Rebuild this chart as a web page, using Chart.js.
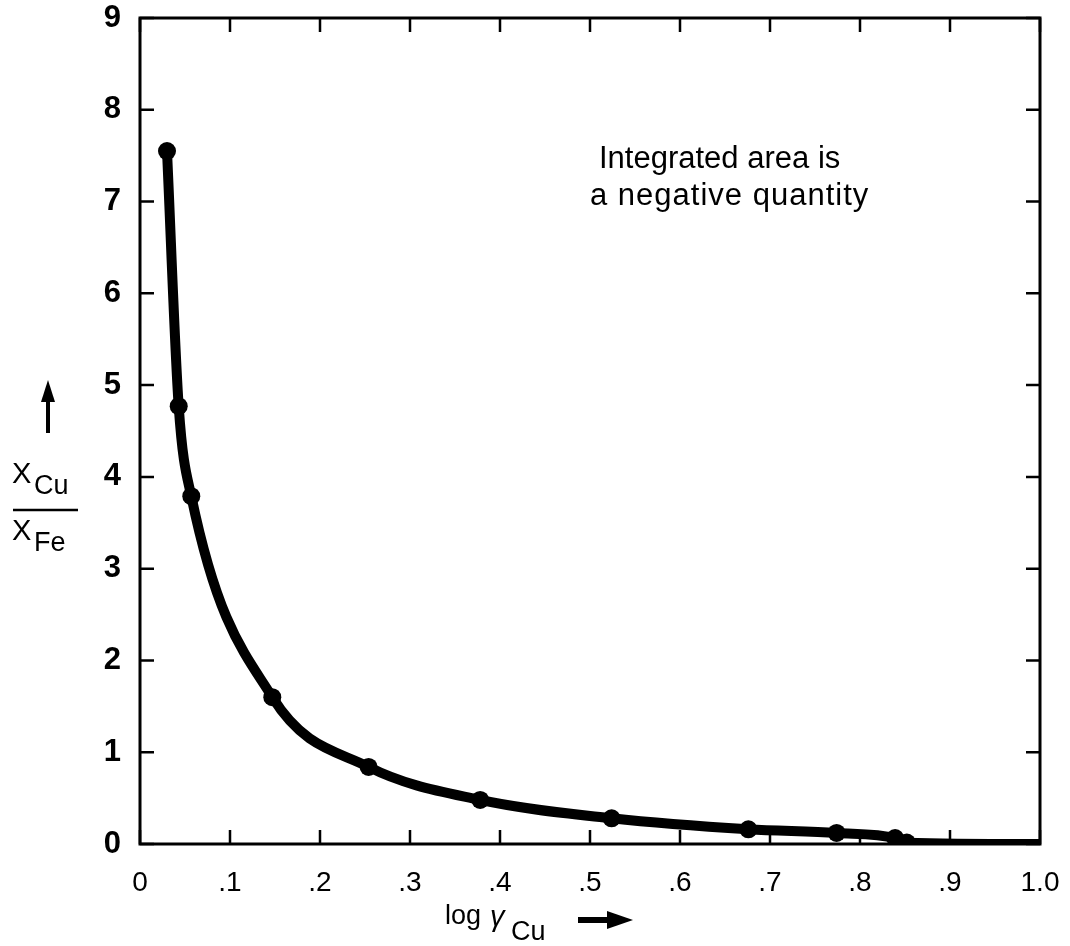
<!DOCTYPE html>
<html>
<head>
<meta charset="utf-8">
<script src="https://cdn.jsdelivr.net/npm/chart.js@4.4.0/dist/chart.umd.min.js"></script>
<style>
  html, body { margin: 0; padding: 0; background: #fff; }
</style>
</head>
<body>
<canvas id="chart" width="1070" height="946"></canvas>
<script>
// valeurs
const logGammaCu = [0.030, 0.043, 0.057, 0.147, 0.254, 0.378, 0.524, 0.676, 0.774, 0.839, 0.852, 1.0];
const ratioCuFe = [7.55, 4.77, 3.79, 1.60, 0.84, 0.48, 0.28, 0.16, 0.12, 0.065, 0.015, 0];
const xTickLabels = ['0', '.1', '.2', '.3', '.4', '.5', '.6', '.7', '.8', '.9', '1.0'];
const yTickLabels = ['0', '1', '2', '3', '4', '5', '6', '7', '8', '9'];
const noteLines = ['Integrated area is', 'a negative quantity'];

const FONT = '"Liberation Sans", Arial, sans-serif';

const points = logGammaCu.map((x, i) => ({ x: x, y: ratioCuFe[i] }));
const lastIdx = points.length - 1;

// cadre, graduations vers l'intérieur, titres et note
const decorations = {
  id: 'decorations',
  afterDraw(chart) {
    const { ctx, chartArea: a, scales } = chart;
    const xs = scales.x, ys = scales.y;
    ctx.save();
    ctx.strokeStyle = '#000';
    ctx.fillStyle = '#000';
    ctx.lineWidth = 3;
    ctx.strokeRect(a.left, a.top, a.right - a.left, a.bottom - a.top);

    const tl = 14;
    ctx.lineWidth = 2.5;
    xs.ticks.forEach(t => {
      const px = xs.getPixelForValue(t.value);
      ctx.beginPath();
      ctx.moveTo(px, a.bottom); ctx.lineTo(px, a.bottom - tl);
      ctx.moveTo(px, a.top); ctx.lineTo(px, a.top + tl);
      ctx.stroke();
    });
    ys.ticks.forEach(t => {
      const py = ys.getPixelForValue(t.value);
      ctx.beginPath();
      ctx.moveTo(a.left, py); ctx.lineTo(a.left + tl, py);
      ctx.moveTo(a.right, py); ctx.lineTo(a.right - tl, py);
      ctx.stroke();
    });

    // titre axe y : flèche + fraction
    ctx.lineWidth = 4;
    ctx.beginPath();
    ctx.moveTo(48, 433); ctx.lineTo(48, 398);
    ctx.stroke();
    ctx.beginPath();
    ctx.moveTo(48, 380); ctx.lineTo(41, 402); ctx.lineTo(55, 402);
    ctx.closePath(); ctx.fill();

    ctx.textAlign = 'left';
    ctx.textBaseline = 'alphabetic';
    ctx.font = '29px ' + FONT;
    ctx.fillText('X', 12, 483);
    ctx.font = '27px ' + FONT;
    ctx.fillText('Cu', 34, 494);
    ctx.lineWidth = 2.5;
    ctx.beginPath();
    ctx.moveTo(13, 510); ctx.lineTo(78, 510);
    ctx.stroke();
    ctx.font = '29px ' + FONT;
    ctx.fillText('X', 12, 540);
    ctx.font = '27px ' + FONT;
    ctx.fillText('Fe', 34, 551);

    // titre axe x
    ctx.font = '27px ' + FONT;
    ctx.fillText('log', 445, 924);
    ctx.font = 'italic 29px ' + FONT;
    ctx.fillText('\u03b3', 490, 926);
    ctx.font = '27px ' + FONT;
    ctx.fillText('Cu', 511, 940);
    ctx.lineWidth = 6;
    ctx.beginPath();
    ctx.moveTo(578, 920); ctx.lineTo(612, 920);
    ctx.stroke();
    ctx.beginPath();
    ctx.moveTo(633, 920); ctx.lineTo(607, 911); ctx.lineTo(607, 929);
    ctx.closePath(); ctx.fill();

    // note
    ctx.font = '31px ' + FONT;
    ctx.textBaseline = 'middle';
    ctx.fillText(noteLines[0], 599, 159);
    ctx.letterSpacing = '1px';
    ctx.fillText(noteLines[1], 590, 196);
    ctx.restore();
  }
};

new Chart(document.getElementById('chart'), {
  type: 'line',
  data: {
    datasets: [{
      data: points,
      borderColor: '#000',
      backgroundColor: '#000',
      borderWidth: 10,
      cubicInterpolationMode: 'monotone',
      pointRadius: ctx => ctx.dataIndex === lastIdx ? 0 : 9,
      pointBackgroundColor: '#000',
      pointBorderWidth: 0,
      fill: false
    }]
  },
  options: {
    responsive: false,
    devicePixelRatio: 1,
    animation: false,
    layout: { padding: { left: 0, top: 18, right: 30, bottom: 0 } },
    plugins: {
      legend: { display: false },
      tooltip: { enabled: false }
    },
    scales: {
      x: {
        type: 'linear',
        min: 0, max: 1,
        grid: { display: false },
        border: { display: false },
        ticks: {
          stepSize: 0.1,
          color: '#000',
          padding: 14,
          maxRotation: 0,
          font: { family: FONT, size: 28 },
          callback: (v, i) => xTickLabels[i]
        },
        afterFit: s => { s.height = 102; s.paddingLeft = 0; s.paddingRight = 0; }
      },
      y: {
        min: 0, max: 9,
        grid: { display: false },
        border: { display: false },
        ticks: {
          stepSize: 1,
          color: '#000',
          padding: 11,
          font: { family: FONT, size: 31, weight: 'bold' },
          callback: (v, i) => yTickLabels[i]
        },
        afterFit: s => { s.width = 140; s.paddingTop = 0; s.paddingBottom = 0; }
      }
    }
  },
  plugins: [decorations]
});
</script>
</body>
</html>
